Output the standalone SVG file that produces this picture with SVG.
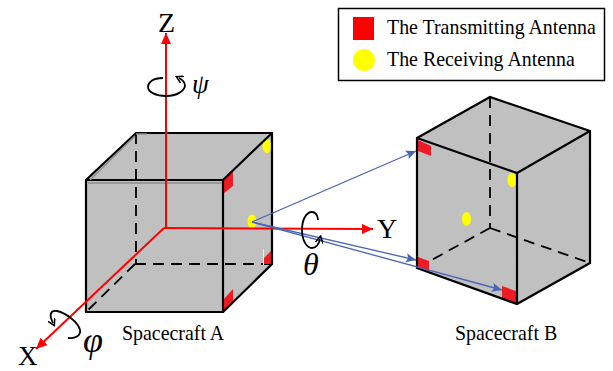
<svg xmlns="http://www.w3.org/2000/svg" width="613" height="371" viewBox="0 0 613 371">
<defs>
<marker id="ar" markerUnits="userSpaceOnUse" markerWidth="14" markerHeight="12" refX="11" refY="5" orient="auto"><path d="M0 0L11 5L0 10Z" fill="#ff0000"/></marker>
<marker id="ab" markerUnits="userSpaceOnUse" markerWidth="12" markerHeight="10" refX="10" refY="5" orient="auto"><path d="M0 0.500L10 5L0 9.500L2 5Z" fill="#4a66b5"/></marker>
<marker id="ak" markerUnits="userSpaceOnUse" markerWidth="8" markerHeight="8" refX="4" refY="4" orient="auto"><path d="M0 0L7 4L0 8" fill="none" stroke="#000" stroke-width="1.500"/></marker>
</defs>
<style>
.f{fill:#c0c0c0;stroke:none}
.e{fill:none;stroke:#000;stroke-width:2.200}
.d{fill:none;stroke:#000;stroke-width:1.800;stroke-dasharray:11 7}
.t{fill:#ed1c24}
.y{fill:#ffff00}
.r{fill:none;stroke:#ff0000;stroke-width:2}
.b{fill:none;stroke:#4a66b5;stroke-width:1.300}
.k{fill:none;stroke:#000;stroke-width:1.800}
text{font-family:"Liberation Serif",serif;fill:#000}
.l{font-size:19.900px}
.c{font-size:19.900px}
.a{font-size:28px}
.g{font-style:italic}
</style>
<g id="spacecraft-a">
<path class="f" d="M86 180L136 133H272V264L223 312H86Z"/>
<path class="d" d="M136 133V264M135 264H272M135 264L86 312"/>
<path class="t" d="M223 179L233 171V186L223 194Z"/>
<path class="t" d="M223 300L233 289V302L223 312Z"/>
<path class="t" d="M264 258L272 250V264H264Z"/>
<path d="M263.500 249V265" stroke="#eee" stroke-width="1"/>
<ellipse class="y" cx="267" cy="146" rx="4.500" ry="7"/>
<ellipse class="y" cx="252" cy="221.500" rx="4.500" ry="7"/>
<path class="e" d="M86 180H223V312H86ZM86 180L136 133H272V264L223 312M223 180L272 133"/>
<path d="M88 183H222M90 180L135 136M136 134H147" stroke="#8c8c8c" stroke-width="1.300" fill="none"/>
</g>
<g id="spacecraft-b">
<path class="f" d="M417 138L490 97L590 131V263L517 304L417 268Z"/>
<path class="d" d="M490 97V228M490 228L417 268M490 228L590 263"/>
<path class="t" d="M418 140L431 146V156L418 151Z"/>
<path class="t" d="M418 257L429 261V271L418 268Z"/>
<path class="t" d="M502 286L516 291V303L502 298Z"/>
<ellipse class="y" cx="512" cy="180" rx="4.500" ry="7"/>
<ellipse class="y" cx="466.500" cy="219" rx="4.500" ry="7"/>
<path class="e" d="M417 138L490 97L590 131V263L517 304L417 268ZM417 138L517 173L590 131M517 173V304"/>
</g>
<g id="connectors">
<path class="r" d="M166 228V33" marker-end="url(#ar)"/>
<path class="r" d="M164 228L373 229" marker-end="url(#ar)"/>
<path class="r" d="M164 228L36 349" marker-end="url(#ar)"/>
<path class="b" d="M252 222L416 151" marker-end="url(#ab)"/>
<path class="b" d="M252 222L416 260" marker-end="url(#ab)"/>
<path class="b" d="M252 222L502 290" marker-end="url(#ab)"/>
<path class="k" d="M163 78C152 78 148 83 148 87C148 92 156 96 166 96C177 96 184 91 185 86C185 83 183 80 179 78" marker-end="url(#ak)"/>
<path class="k" d="M318 220C318 215 315 212 312 212C306 212 302 220 302 230C302 241 307 248 312 248C316 248 319 244 320 239" marker-end="url(#ak)"/>
<path class="k" d="M68 338C76 339 81 335 80 330C78 322 66 313 57 311C50 310 49 315 53 323" marker-end="url(#ak)"/>
</g>
<g id="legend">
<rect x="338.500" y="8.500" width="266" height="72" fill="#fff" stroke="#000" stroke-width="1.500"/>
<rect x="353" y="17" width="21" height="23" fill="#ff0000"/>
<circle cx="364" cy="60" r="11" fill="#ffff00"/>
<text class="l" x="387" y="34">The Transmitting Antenna</text>
<text class="l" x="387" y="66">The Receiving Antenna</text>
</g>
<g id="labels">
<text class="a" x="158" y="32">Z</text>
<text class="a" x="377" y="238">Y</text>
<text class="a" x="18" y="364.500" style="font-size:27px">X</text>
<text class="g" x="192" y="93" style="font-size:27px">ψ</text>
<text class="g" x="303" y="275" style="font-size:32px">θ</text>
<text class="g" x="83" y="352" style="font-size:36px">φ</text>
<text class="c" x="122" y="340">Spacecraft A</text>
<text class="c" x="455" y="340">Spacecraft B</text>
</g>
</svg>
